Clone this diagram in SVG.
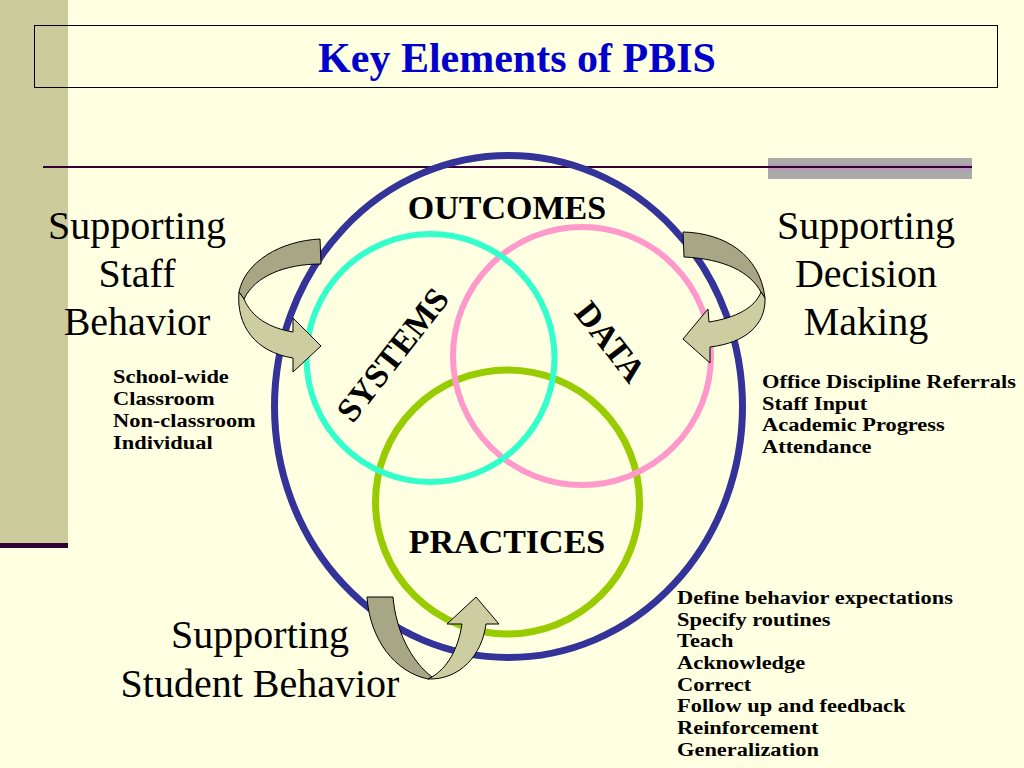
<svg xmlns="http://www.w3.org/2000/svg" width="1024" height="768" viewBox="0 0 1024 768">
  <defs>
    <style>
      .serif { font-family: "Liberation Serif", "Times New Roman", serif; }
      .big { font-size: 40px; fill: #000; text-anchor: middle; }
      .list { font-size: 19.5px; font-weight: bold; fill: #000; }
      .lbl { font-size: 34px; font-weight: bold; fill: #000; text-anchor: middle; }
      .ring { fill: none; }
      .back { fill: #A7A785; stroke: #000; stroke-width: 1; stroke-linejoin: round; }
      .front { fill: #CDCDA2; stroke: #000; stroke-width: 1; stroke-linejoin: round; }
    </style>
  </defs>

  <!-- background -->
  <rect x="0" y="0" width="1024" height="768" fill="#FFFFE1"/>
  <rect x="0" y="0" width="68" height="545" fill="#CBCB9C"/>
  <rect x="0" y="543" width="68" height="5" fill="#330033"/>
  <rect x="768" y="158" width="204" height="21" fill="#AAAAAA"/>
  <rect x="768" y="164" width="204" height="7" fill="#B49CB4"/>
  <line x1="43" y1="167" x2="972" y2="167" stroke="#330033" stroke-width="2"/>

  <!-- title -->
  <g id="title">
    <rect x="34.5" y="25.5" width="963" height="62" fill="none" stroke="#000" stroke-width="1"/>
    <text x="517" y="72" class="serif" font-size="42" font-weight="bold" fill="#0000CC" text-anchor="middle">Key Elements of PBIS</text>
  </g>

  <!-- rings -->
  <g id="outcomes">
    <ellipse cx="508.5" cy="406.5" rx="234" ry="251" class="ring" stroke="#333399" stroke-width="7"/>
    <text x="507" y="219" class="serif lbl">OUTCOMES</text>
  </g>
  <g id="practices">
    <circle cx="507.5" cy="502" r="132" class="ring" stroke="#99CC00" stroke-width="7"/>
    <text x="507" y="553" class="serif lbl">PRACTICES</text>
  </g>
  <g id="data">
    <circle cx="582" cy="356" r="129" class="ring" stroke="#FF99CC" stroke-width="6"/>
    <g transform="translate(610,342) rotate(52)">
      <text x="0" y="11" class="serif lbl" font-size="32">DATA</text>
    </g>
  </g>
  <g id="systems">
    <circle cx="430.5" cy="358" r="124" class="ring" stroke="#33FFCC" stroke-width="6"/>
    <g transform="translate(393,355) rotate(-52)">
      <text x="0" y="11" class="serif lbl" font-size="32">SYSTEMS</text>
    </g>
  </g>

  <!-- side labels -->
  <g id="staff">
    <text class="serif big"><tspan x="137" y="239">Supporting</tspan><tspan x="137" y="287">Staff</tspan><tspan x="137" y="335">Behavior</tspan></text>
    <text class="serif list" transform="translate(113,383) scale(1.15,1)"><tspan x="0" y="0">School-wide</tspan><tspan x="0" y="22">Classroom</tspan><tspan x="0" y="44">Non-classroom</tspan><tspan x="0" y="66">Individual</tspan></text>
  </g>
  <g id="decision">
    <text class="serif big"><tspan x="866" y="239">Supporting</tspan><tspan x="866" y="287">Decision</tspan><tspan x="866" y="335">Making</tspan></text>
    <text class="serif list" transform="translate(762,388) scale(1.15,1)"><tspan x="0" y="0">Office Discipline Referrals</tspan><tspan x="0" y="22">Staff Input</tspan><tspan x="0" y="43.5">Academic Progress</tspan><tspan x="0" y="65">Attendance</tspan></text>
  </g>
  <g id="student">
    <text class="serif big"><tspan x="260" y="648">Supporting</tspan><tspan x="260" y="697">Student Behavior</tspan></text>
    <text class="serif list" transform="translate(677,604) scale(1.15,1)"><tspan x="0" y="0">Define behavior expectations</tspan><tspan x="0" y="21.7">Specify routines</tspan><tspan x="0" y="43.4">Teach</tspan><tspan x="0" y="65.1">Acknowledge</tspan><tspan x="0" y="86.8">Correct</tspan><tspan x="0" y="108.5">Follow up and feedback</tspan><tspan x="0" y="130.2">Reinforcement</tspan><tspan x="0" y="152">Generalization</tspan></text>
  </g>

  <!-- connectors: curved ribbon arrows -->
  <g id="connectors">
    <g id="arrow-staff">
      <path class="back" d="M320,239 C280,241 245,262 239,292 L244,299 C255,276 285,264 321,264 Z"/>
      <path class="front" d="M239,292 C236,325 255,352 293,358 L293,372 L321,346 L293,318 L293,332 C270,328 252,318 244,299 Z"/>
    </g>
    <g id="arrow-decision">
      <path class="back" d="M683,232 C725,233 760,255 765,298 L761,292 C750,272 725,259 684,257 Z"/>
      <path class="front" d="M765,298 C766,325 745,343 710,347 L710,363 L683,339 L708,309 L709,322 C735,318 755,308 761,292 Z"/>
    </g>
    <g id="arrow-student">
      <path class="back" d="M367,597 C370,640 395,672 428,679 L432,677 C410,660 396,630 393,597 Z"/>
      <path class="front" d="M428,679 C460,680 482,655 486,624 L499,624 L476,597 L447,624 L462,624 C458,650 447,668 432,677 Z"/>
    </g>
  </g>
</svg>
